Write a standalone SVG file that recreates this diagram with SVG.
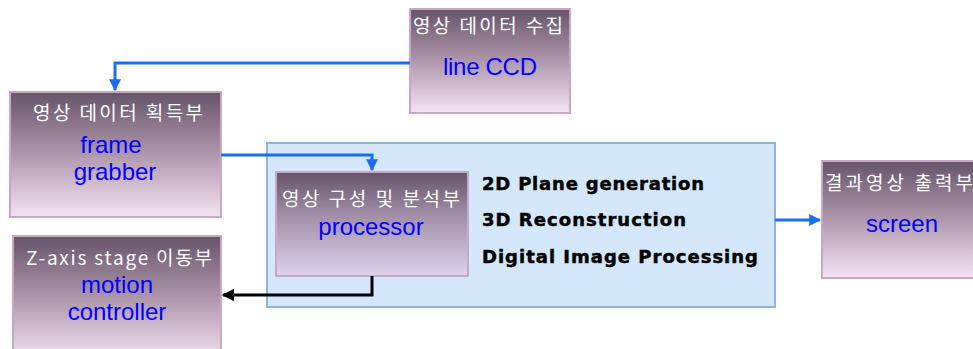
<svg xmlns="http://www.w3.org/2000/svg" width="973" height="349" viewBox="0 0 973 349">
<defs>
<linearGradient id="g" x1="0" y1="0" x2="0" y2="1">
<stop offset="0" stop-color="#66546a"/>
<stop offset="0.45" stop-color="#a890a6"/>
<stop offset="1" stop-color="#f4e4f2"/>
</linearGradient>
<linearGradient id="gp" x1="0" y1="0" x2="0" y2="1">
<stop offset="0" stop-color="#66546a"/>
<stop offset="0.45" stop-color="#a592ac"/>
<stop offset="1" stop-color="#ddd3ec"/>
</linearGradient>
<marker id="ab" viewBox="0 0 10 10" refX="9" refY="5" markerWidth="4" markerHeight="4" orient="auto" markerUnits="strokeWidth">
<path d="M0,0 L10,5 L0,10 Z" fill="#1a6ff0"/>
</marker>
<marker id="ak" viewBox="0 0 10 10" refX="9" refY="5" markerWidth="4.2" markerHeight="4.2" orient="auto" markerUnits="strokeWidth">
<path d="M0,0 L10,5 L0,10 Z" fill="#000"/>
</marker>
</defs>
<style>
.box{fill:url(#g);stroke:#c9a8c6;stroke-width:2}
.kr{font-family:"Noto Sans CJK KR","Liberation Sans",sans-serif;font-size:19px;fill:#fff;text-anchor:middle}
.en{font-family:"Liberation Sans",Arial,sans-serif;font-size:24px;fill:#0000ff;text-anchor:middle}
.bd{font-family:"DejaVu Sans","Liberation Sans",sans-serif;font-size:18px;font-weight:bold;fill:#000;stroke:#000;stroke-width:0.5px}
.cb{fill:none;stroke:#1a6ff0;stroke-width:3}
.ck{fill:none;stroke:#000;stroke-width:3}
</style>
<g id="container">
<rect x="267" y="143" width="508" height="164" fill="#d5e8fb" stroke="#8fb5dc" stroke-width="2"/>
</g>
<g id="n1">
<rect class="box" x="410" y="9" width="160" height="104"/>
<text class="kr" x="488" y="33" textLength="150" lengthAdjust="spacing">영상 데이터 수집</text>
<text class="en" x="490" y="75" textLength="94" lengthAdjust="spacing">line CCD</text>
</g>
<g id="n2">
<rect class="box" x="10" y="92" width="211" height="125"/>
<text class="kr" x="118" y="120" textLength="170" lengthAdjust="spacing">영상 데이터 획득부</text>
<text class="en" x="111" y="153">frame</text>
<text class="en" x="115" y="180">grabber</text>
</g>
<g id="n3">
<rect class="box" x="276" y="172" width="192" height="104" style="fill:url(#gp)"/>
<text class="kr" x="371" y="206" textLength="178" lengthAdjust="spacing">영상 구성 및 분석부</text>
<text class="en" x="371" y="235">processor</text>
</g>
<g id="labels">
<text class="bd" x="482" y="190" textLength="222" lengthAdjust="spacing">2D Plane generation</text>
<text class="bd" x="482" y="226" textLength="204" lengthAdjust="spacing">3D Reconstruction</text>
<text class="bd" x="482" y="263" textLength="276" lengthAdjust="spacing">Digital Image Processing</text>
</g>
<g id="n4">
<rect class="box" x="13" y="236" width="208" height="125"/>
<text class="kr" x="119" y="265" textLength="186" lengthAdjust="spacing">Z-axis stage 이동부</text>
<text class="en" x="117" y="293">motion</text>
<text class="en" x="117" y="320">controller</text>
</g>
<g id="n5">
<rect class="box" x="822" y="161" width="160" height="117"/>
<text class="kr" x="899" y="190" textLength="148" lengthAdjust="spacing">결과영상 출력부</text>
<text class="en" x="902" y="232">screen</text>
</g>
<g id="connectors">
<path class="cb" d="M410,63 H115 V90" marker-end="url(#ab)"/>
<path class="cb" d="M221,155 H372 V170" marker-end="url(#ab)"/>
<path class="ck" d="M372,276 V295 H223" marker-end="url(#ak)"/>
<path class="cb" d="M775,220 H820" marker-end="url(#ab)"/>
</g>
</svg>
